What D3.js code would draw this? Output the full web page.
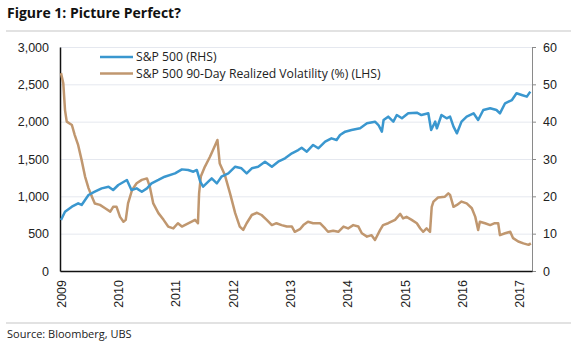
<!DOCTYPE html>
<html>
<head>
<meta charset="utf-8">
<script src="https://cdn.jsdelivr.net/npm/d3@7"></script>
<style>
  html, body { margin: 0; padding: 0; background: #fff; }
  svg { display: block; font-family: "Open Sans", "Noto Sans", sans-serif; }
</style>
</head>
<body>
<div id="chart"></div>
<script>
// S&P 500 index level, plotted on the left axis (decimal year, level)
const spxDates = [2009.00, 2009.07, 2009.19, 2009.30, 2009.36, 2009.48, 2009.59, 2009.71, 2009.83, 2009.91,
  2010.00, 2010.15, 2010.23, 2010.32, 2010.41, 2010.50, 2010.58, 2010.70, 2010.81, 2010.99,
  2011.11, 2011.22, 2011.31, 2011.37, 2011.43, 2011.48, 2011.57, 2011.63, 2011.72, 2011.80, 2011.92,
  2012.04, 2012.15, 2012.24, 2012.33, 2012.44, 2012.56, 2012.68, 2012.79, 2012.91,
  2013.03, 2013.14, 2013.20, 2013.29, 2013.40, 2013.49, 2013.61, 2013.72, 2013.81, 2013.87, 2013.96,
  2014.07, 2014.22, 2014.34, 2014.48, 2014.54, 2014.60, 2014.63, 2014.71, 2014.80, 2014.86, 2014.95,
  2015.06, 2015.21, 2015.29, 2015.41, 2015.46, 2015.53, 2015.56, 2015.64, 2015.73, 2015.79, 2015.85, 2015.91, 2015.99,
  2016.08, 2016.20, 2016.28, 2016.37, 2016.49, 2016.60, 2016.66, 2016.75, 2016.87, 2016.95,
  2017.04, 2017.13, 2017.19];
const spxValues = [683, 794, 861, 906, 884, 1018, 1062, 1107, 1129, 1085,
  1152, 1219, 1085, 1107, 1062, 1107, 1174, 1219, 1263, 1308,
  1361, 1353, 1330, 1353, 1196, 1129, 1196, 1241, 1174, 1263, 1308,
  1397, 1375, 1308, 1375, 1397, 1464, 1397, 1464, 1509,
  1576, 1620, 1650, 1598, 1688, 1643, 1732, 1777, 1755, 1821, 1866,
  1888, 1911, 1978, 2000, 1955, 1866, 2022, 2067, 2000, 2089, 2045,
  2112, 2121, 2089, 2112, 1888, 2000, 1911, 2089, 2045, 2067, 1933, 1844, 2000,
  2067, 2112, 2022, 2156, 2179, 2156, 2112, 2246, 2290, 2380,
  2357, 2335, 2402];

// 90-day realized volatility (%), plotted on the right axis
const volDates = [2009.00, 2009.04, 2009.07, 2009.10, 2009.19, 2009.24, 2009.30, 2009.36, 2009.42, 2009.48,
  2009.54, 2009.59, 2009.68, 2009.77, 2009.86, 2009.91, 2009.97, 2010.03, 2010.09, 2010.13,
  2010.17, 2010.24, 2010.32, 2010.41, 2010.50, 2010.55, 2010.61, 2010.70, 2010.79, 2010.87, 2010.96,
  2011.04, 2011.11, 2011.16, 2011.28, 2011.34, 2011.39, 2011.41, 2011.44, 2011.51, 2011.60, 2011.69, 2011.73,
  2011.77, 2011.86, 2011.95, 2012.04, 2012.12, 2012.18, 2012.24, 2012.33, 2012.42, 2012.50, 2012.59,
  2012.68, 2012.76, 2012.85, 2012.94, 2013.03, 2013.08, 2013.17, 2013.23, 2013.31, 2013.40, 2013.52,
  2013.61, 2013.66, 2013.75, 2013.84, 2013.93, 2014.01, 2014.10, 2014.19, 2014.25, 2014.34, 2014.42,
  2014.48, 2014.57, 2014.62, 2014.71, 2014.83, 2014.92, 2014.97, 2015.03, 2015.12, 2015.21, 2015.27,
  2015.32, 2015.38, 2015.44, 2015.47, 2015.50, 2015.58, 2015.70, 2015.76, 2015.79, 2015.85, 2015.91,
  2015.99, 2016.08, 2016.17, 2016.23, 2016.28, 2016.31, 2016.40, 2016.49, 2016.57, 2016.63, 2016.66,
  2016.75, 2016.84, 2016.89, 2016.98, 2017.07, 2017.16, 2017.20];
const volValues = [53, 50.3, 43.1, 40, 39.1, 36.4, 33.7, 29.7, 25.3, 22.2,
  19.9, 18.1, 17.7, 16.8, 15.9, 17.2, 17.2, 14.5, 13.2, 13.7,
  18.1, 21.7, 23.5, 24.4, 24.8, 22.6, 18.1, 15.5, 13.7, 11.9, 11.4,
  12.8, 11.9, 12.3, 13.2, 13.7, 12.8, 20.8, 25.3, 27.9, 30.6, 33.7, 35.1,
  28.8, 25.7, 20.8, 15.5, 11.9, 11, 12.8, 15, 15.6, 15, 13.7,
  12.3, 12.8, 12.3, 11.9, 11.9, 10.5, 11.2, 12.3, 13.2, 12.8, 12.8,
  11.4, 10.5, 10.8, 10.5, 11.9, 11.4, 12.3, 11.9, 10.1, 9.2, 9.6,
  8.3, 11, 12.3, 12.8, 13.7, 15.3, 14.1, 14.5, 13.7, 12.8, 11.4,
  10.5, 11.4, 10.5, 17.2, 18.6, 19.7, 19.9, 20.8, 20.4, 17.2, 17.7,
  18.6, 18.1, 16.8, 14.5, 11, 13.2, 12.8, 12.3, 12.8, 12.8, 9.6,
  10.1, 10.5, 8.8, 7.9, 7.4, 7.0, 7.4];

const yearTicks = [2009, 2010, 2011, 2012, 2013, 2014, 2015, 2016, 2017];
const leftTicks = [0, 500, 1000, 1500, 2000, 2500, 3000];
const rightTicks = [0, 10, 20, 30, 40, 50, 60];
const legendLabels = ['S&P 500 (RHS)', 'S&P 500 90-Day Realized Volatility (%) (LHS)'];

const W = 572, H = 350;
const plot = { left: 60, right: 532, top: 47, bottom: 271 };
const blue = '#3a97cf';
const brown = '#c0976f';

const svg = d3.select('#chart').append('svg').attr('width', W).attr('height', H);

svg.append('text')
  .attr('x', 7).attr('y', 18)
  .attr('font-size', 14).attr('font-weight', 700).attr('fill', '#111')
  .text('Figure 1: Picture Perfect?');

svg.append('line').attr('x1', 6).attr('x2', 571).attr('y1', 31).attr('y2', 31)
  .attr('stroke', '#d8d8d8').attr('stroke-width', 1.5);
svg.append('line').attr('x1', 6).attr('x2', 571).attr('y1', 323).attr('y2', 323)
  .attr('stroke', '#d8d8d8').attr('stroke-width', 1.5);

svg.append('text')
  .attr('x', 7).attr('y', 338)
  .attr('font-size', 11).attr('fill', '#222')
  .text('Source:  Bloomberg, UBS');

const x = d3.scaleLinear().domain([2009 - 1 / 57.3, 2009 + 471 / 57.3]).range([plot.left, plot.right]);
const yL = d3.scaleLinear().domain([0, 3000]).range([plot.bottom, plot.top]);
const yR = d3.scaleLinear().domain([0, 60]).range([plot.bottom, plot.top]);

// grid lines
svg.append('g')
  .attr('transform', `translate(${plot.left},0)`)
  .call(d3.axisLeft(yL).tickValues(leftTicks.slice(1)).tickSize(-(plot.right - plot.left)).tickFormat(''))
  .call(g => g.select('.domain').remove())
  .selectAll('line').attr('stroke', '#e5e8ef');

// left axis
const leftAxis = svg.append('g')
  .attr('transform', `translate(${plot.left},0)`)
  .call(d3.axisLeft(yL).tickValues(leftTicks).tickSize(0).tickPadding(11).tickFormat(d3.format(',')));
leftAxis.select('.domain').attr('stroke', '#111').attr('stroke-width', 1.5);
leftAxis.selectAll('text').attr('font-size', 12.5).attr('fill', '#222').attr('font-family', null);

// right axis
const rightAxis = svg.append('g')
  .attr('transform', `translate(${plot.right},0)`)
  .call(d3.axisRight(yR).tickValues(rightTicks).tickSize(4).tickPadding(7));
rightAxis.select('.domain').attr('stroke', '#8a8a8a');
rightAxis.selectAll('line').attr('stroke', '#8a8a8a');
rightAxis.selectAll('text').attr('font-size', 12.5).attr('fill', '#222').attr('font-family', null);

// bottom axis
const bottomAxis = svg.append('g')
  .attr('transform', `translate(0,${plot.bottom})`)
  .call(d3.axisBottom(x).tickValues(yearTicks).tickSize(0).tickFormat(d3.format('d')));
bottomAxis.select('.domain').attr('stroke', '#111').attr('stroke-width', 1.5);
bottomAxis.selectAll('text')
  .attr('font-size', 12.5).attr('fill', '#222').attr('font-family', null)
  .attr('transform', 'rotate(-90)')
  .attr('text-anchor', 'end')
  .attr('x', -9).attr('y', 0).attr('dy', '0.35em');

// lines
const spx = spxDates.map((d, i) => ({ t: d, v: spxValues[i] }));
const vol = volDates.map((d, i) => ({ t: d, v: volValues[i] }));

svg.append('path')
  .datum(vol)
  .attr('fill', 'none').attr('stroke', brown).attr('stroke-width', 2.5)
  .attr('stroke-linejoin', 'round')
  .attr('d', d3.line().x(d => x(d.t)).y(d => yR(d.v)));

svg.append('path')
  .datum(spx)
  .attr('fill', 'none').attr('stroke', blue).attr('stroke-width', 2.5)
  .attr('stroke-linejoin', 'round')
  .attr('d', d3.line().x(d => x(d.t)).y(d => yL(d.v)));

// legend
const legend = svg.append('g');
[blue, brown].forEach((c, i) => {
  const y = 57 + i * 16.5;
  legend.append('line').attr('x1', 100).attr('x2', 133).attr('y1', y).attr('y2', y)
    .attr('stroke', c).attr('stroke-width', 2.5);
  legend.append('text').attr('x', 136).attr('y', y).attr('dy', '0.35em')
    .attr('font-size', 12.2).attr('fill', '#222').text(legendLabels[i]);
});
</script>
</body>
</html>
